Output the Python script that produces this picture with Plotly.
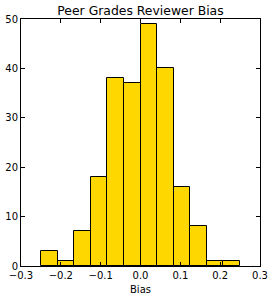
import plotly.graph_objects as go

bin_edges = [-0.25, -0.20833, -0.16667, -0.125, -0.08333, -0.04167, 0.0,
             0.04167, 0.08333, 0.125, 0.16667, 0.20833, 0.25]
counts = [3, 1, 7, 18, 38, 37, 49, 40, 16, 8, 1, 1]
x_ticks = [-0.3, -0.2, -0.1, 0.0, 0.1, 0.2, 0.3]
y_ticks = [0, 10, 20, 30, 40, 50]

centers = [(a + b) / 2 for a, b in zip(bin_edges[:-1], bin_edges[1:])]
widths = [b - a for a, b in zip(bin_edges[:-1], bin_edges[1:])]

fig = go.Figure(go.Bar(
    x=centers, y=counts, width=widths,
    marker=dict(color="#FFD700", line=dict(color="black", width=1)),
))

font = "DejaVu Sans"
fig.update_layout(
    width=274, height=300,
    margin=dict(l=21, r=14, t=19, b=34),
    plot_bgcolor="white", paper_bgcolor="white",
    font=dict(family=font, size=10, color="black"),
    title=dict(text="Peer Grades Reviewer Bias", x=0.5, xanchor="center",
               xref="paper",
               y=1 - 11 / 300, yanchor="middle", font=dict(size=12.4, family=font)),
    showlegend=False,
    bargap=0,
)
fig.update_xaxes(
    range=[-0.3, 0.3], tickvals=x_ticks, tickformat=".1f", automargin=False,
    ticks="inside", ticklen=4, tickcolor="black", mirror="ticks",
    showline=True, linecolor="black", linewidth=1, showgrid=False, zeroline=False,
    tickfont=dict(size=10),
    title=dict(text="Bias", standoff=5, font=dict(size=10)),
)
fig.update_yaxes(
    range=[0, 50], tickvals=y_ticks, automargin=False,
    ticks="inside", ticklen=4, tickcolor="black", mirror="ticks",
    showline=True, linecolor="black", linewidth=1, showgrid=False, zeroline=False,
    tickfont=dict(size=10),
)

fig.write_html("out.html", config={"displayModeBar": False},
               post_script="document.body.style.margin='0px';")
